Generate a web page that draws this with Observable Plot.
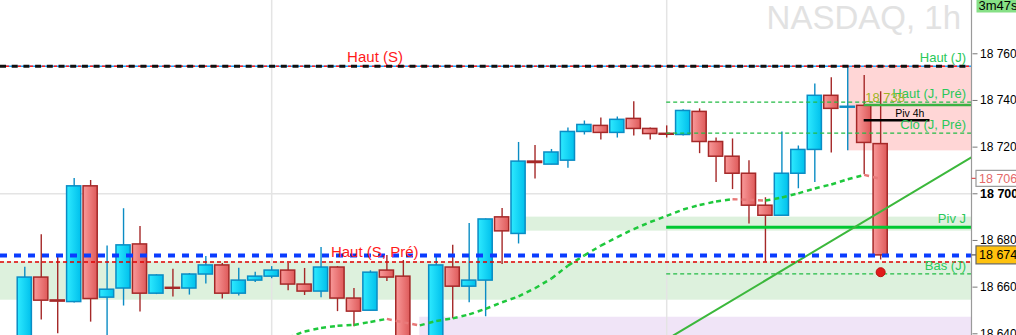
<!DOCTYPE html>
<html><head><meta charset="utf-8">
<script src="https://cdn.jsdelivr.net/npm/d3@7"></script>
<script src="https://cdn.jsdelivr.net/npm/@observablehq/plot@0.6"></script>
<style>
html,body{margin:0;padding:0;background:#fff;}
#chart svg{display:block;}
</style>
</head><body><div id="chart"></div>
<script>
// ---------- data ----------
const opens  = [18631,18664.1,18654.3,18653.6,18703.2,18655.5,18659.4,18678.3,18657.2,18659.7,18659.4,18665.4,18669.3,18657.2,18662.8,18664.5,18667.1,18661.1,18658.1,18668.4,18655.1,18649.9,18667.1,18664.5,18629,18633,18668.4,18660.2,18662.8,18689.9,18682.8,18713.8,18712.5,18714.2,18726.5,18729.1,18726.1,18732.1,18727.8,18725.7,18725.2,18735.1,18722.2,18715.9,18708.6,18694.9,18690.6,18708.6,18718.8,18742,18736.9,18737.7,18721.3];
const highs  = [18668.5,18682.5,18673,18706.6,18705.7,18677.6,18693.6,18686,18665.3,18667.7,18665.8,18673.1,18670.1,18668.1,18666.4,18668.8,18670.1,18668,18677,18668.8,18659.4,18667,18673.6,18671.4,18637,18672.7,18677.9,18687.3,18689.2,18693.7,18722,18720.7,18719,18728.2,18731.2,18732.5,18732.9,18739.4,18728.2,18729.1,18736,18736.4,18723.9,18723.5,18714.2,18698.3,18726.5,18720.5,18747.1,18749.7,18754.6,18750.7,18743.7];
const lows   = [18626,18645.9,18640,18653.2,18645,18638,18651.9,18649.3,18656.8,18655.8,18656.6,18661.3,18654.9,18656.2,18662,18663.6,18658.5,18656.4,18655.5,18649.5,18643,18649.9,18662.4,18626,18623,18629,18646.5,18653.3,18647.3,18669.7,18678.5,18706.3,18712.5,18711,18725.2,18723.1,18723.9,18724.8,18723.1,18723.9,18724.8,18717.2,18704.8,18701.8,18687.1,18670.8,18690.6,18702.2,18704.8,18717.5,18718.4,18708.2,18671.6];
const closes = [18664.1,18654.2,18653.8,18703.2,18654.9,18658.9,18677.9,18657.2,18665,18659.3,18665.4,18669.3,18657.2,18662.8,18664.5,18667.1,18661.1,18658.1,18668.4,18655.1,18649.5,18666.2,18664.1,18631,18633,18669.3,18660.2,18662.8,18689,18683.9,18713.8,18713.2,18717.7,18726.5,18729.5,18726.1,18731.7,18727.8,18725.6,18725.3,18735.5,18722.2,18715.9,18708.6,18694.9,18690.6,18708.6,18718.8,18742,18736.4,18737.3,18721.8,18673.6];

// moving average, from bar 16 on
const maStart = 16;
const maValues = [18638.4,18641.0,18642.5,18643.4,18643.8,18645.1,18646.4,18644.9,18643.6,18645.5,18646.6,18648.3,18650.7,18653.5,18656.0,18659.5,18663.7,18669.2,18673.6,18677.8,18681.4,18684.9,18687.9,18690.5,18693.3,18695.2,18696.7,18697.7,18697.4,18697.1,18698.4,18700.2,18702.3,18704.0,18706.2,18708.1,18706.4];

// levels
const hautS = 18754.7;        // Haut (S) / Haut (J)
const hautSPre = 18670.8;     // Haut (S, Pré)
const lastPrice = 18673.6;
const hautJPre = 18739.3;
const cloJPre = 18726.0;
const basJ = 18665.7;
const pivJ = 18685.7;
const piv4h = 18731.5;
const level4h = 18738.1;
const roundLevel = 18700;

const sessionStarts = [15, 39];   // bar index of the session separators
const dayStart = 39;
const bar4hStart = 51;
const piv4hEnd = 55;

const bandWeek = [18654.4, 18670.8];
const bandPiv = [18684.0, 18690.0];
const bandPivStart = 30;
const bandLow = [18600, 18647.1];
const bandLowStart = 24;
const rangeBox = [18718.4, 18754.6];
const rangeStart = 50;

const trendPoints = [{i: 39.41, v: 18639.3}, {i: 57.51, v: 18715.6}];
const redDot = [{i: 52, v: 18666.4}];

const yTicks = [18640, 18660, 18680, 18700, 18720, 18740, 18760];
const labelWeekHigh = {t: "Haut (S)", v: hautS, i: 21.28};
const labelWeekHighPre = {t: "Haut (S, Pré)", v: hautSPre, i: 21.26};
const rightLabels = [
  {t: "Haut (J)", v: hautS}, {t: "Haut (J, Pré)", v: hautJPre}, {t: "Clo (J, Pré)", v: cloJPre},
  {t: "Piv J", v: pivJ}, {t: "Bas (J)", v: basJ}
];
const title = "NASDAQ, 1h";
const timer = "3m47s";

// ---------- build ----------
const candles = d3.range(opens.length).map(i => ({i, o: opens[i], h: highs[i], l: lows[i], c: closes[i], up: closes[i] >= opens[i]}));
const ups = candles.filter(d => d.up), downs = candles.filter(d => !d.up);
const ma = maValues.map((v, k) => ({i: maStart + k, v}));
const maSegs = ma.slice(1).map((d, k) => ({i1: ma[k].i, v1: ma[k].v, i2: d.i, v2: d.v, rising: d.v >= ma[k].v}));
const fmt = d => d3.format(",")(d).replace(/,/g, " ");

const W = 1016, H = 335, MR = 44.5;
const xDomain = [-1.476, 57.55];
const xEnd = xDomain[1];
const BW = 0.43;
const FONT = "'Liberation Sans', Arial, sans-serif";

const green = "#2ac85a";
const upStroke = "#0a8cc4", dnStroke = "#a52828";

const chart = Plot.plot({
  width: W, height: H,
  marginLeft: 0, marginRight: MR, marginTop: 0, marginBottom: 0,
  style: {fontFamily: FONT, fontSize: "12px", background: "#fff", overflow: "visible"},
  x: {domain: xDomain, axis: null},
  y: {domain: [18639.27, 18782.84], axis: null},
  marks: [
    // bands
    Plot.rect([bandWeek], {y1: d => d[0], y2: d => d[1], fill: "#ddf1dd"}),
    Plot.rect([bandLow], {x1: bandLowStart, x2: xEnd, y1: d => d[0], y2: d => d[1], fill: "#f0e4f7", clip: true}),
    Plot.rect([bandPiv], {x1: bandPivStart, x2: xEnd, y1: d => d[0], y2: d => d[1], fill: "#ddf1dd"}),
    Plot.rect([rangeBox], {x1: rangeStart, x2: xEnd, y1: d => d[0], y2: d => d[1], fill: "#ffd6d6"}),
    // grid + session separators
    Plot.ruleY([roundLevel], {stroke: "#e4e4e4", strokeWidth: 1.5}),
    Plot.ruleX(sessionStarts, {stroke: "#e4e4e4", strokeWidth: 1.5}),
    // title
    Plot.text([title], {text: d => d, frameAnchor: "top-right", textAnchor: "end", lineAnchor: "middle", dx: -11, dy: 18, fontSize: 33, fill: "#e2e2e2"}),
    // candles: wicks
    Plot.ruleX(ups, {x: "i", y1: "l", y2: "h", stroke: upStroke, strokeWidth: 1.4, clip: true}),
    Plot.ruleX(downs, {x: "i", y1: "l", y2: "h", stroke: dnStroke, strokeWidth: 1.4, clip: true}),
    // candles: bodies
    Plot.rect(ups, {x1: d => d.i - BW, x2: d => d.i + BW, y1: "o", y2: "c", fill: "url(#gUp)", stroke: upStroke, strokeWidth: 1.5, clip: true}),
    Plot.rect(downs, {x1: d => d.i - BW, x2: d => d.i + BW, y1: "o", y2: "c", fill: "url(#gDn)", stroke: dnStroke, strokeWidth: 1.5, clip: true}),
    // day levels
    Plot.ruleY([hautJPre, cloJPre, basJ], {x1: dayStart, x2: xEnd, stroke: "#22bb44", strokeWidth: 1.2, strokeDasharray: "4,3"}),
    Plot.ruleY([pivJ], {x1: dayStart, x2: xEnd, stroke: "#00c832", strokeWidth: 3}),
    Plot.ruleY([level4h], {x1: bar4hStart, x2: xEnd, stroke: "#3cb043", strokeWidth: 2.5}),
    Plot.ruleY([piv4h], {x1: bar4hStart, x2: piv4hEnd, stroke: "#000", strokeWidth: 2.5}),
    // trend line
    Plot.line(trendPoints, {x: "i", y: "v", stroke: "#3cb83c", strokeWidth: 2, clip: true}),
    // moving average
    Plot.link(maSegs.filter(d => d.rising), {x1: "i1", y1: "v1", x2: "i2", y2: "v2", stroke: "#1ec83c", strokeWidth: 2.5, strokeDasharray: "5,4", clip: true}),
    Plot.link(maSegs.filter(d => !d.rising), {x1: "i1", y1: "v1", x2: "i2", y2: "v2", stroke: "#e87878", strokeWidth: 2.5, strokeDasharray: "5,4", clip: true}),
    // week levels / last price
    Plot.ruleY([hautSPre], {stroke: "#e00000", strokeWidth: 1.4, strokeDasharray: "4,3"}),
    Plot.ruleY([lastPrice], {stroke: "#0a3cff", strokeWidth: 4, strokeDasharray: "7,7"}),
    Plot.ruleY([hautS], {stroke: "#1aa0ff", strokeWidth: 1.5}),
    Plot.ruleY([hautS], {stroke: "#ff1a1a", strokeWidth: 1.5, strokeDasharray: "3,3"}),
    Plot.ruleY([hautS], {stroke: "#111", strokeWidth: 3, strokeDasharray: "6,5.7"}),
    // labels
    Plot.text([labelWeekHigh], {x: "i", y: "v", text: "t", dy: -9, fontSize: 15, fill: "#ff1a1a", lineAnchor: "middle"}),
    Plot.text([labelWeekHighPre], {x: "i", y: "v", text: "t", dy: -10, fontSize: 15, fill: "#ff1a1a", lineAnchor: "middle"}),
    Plot.text(rightLabels, {y: "v", text: "t", frameAnchor: "right", textAnchor: "end", dx: -6, dy: -8, fontSize: 13, fill: green, lineAnchor: "middle"}),
    Plot.text([level4h], {x: bar4hStart, y: d => d, text: d => fmt(Math.round(d)), textAnchor: "start", dx: 1, dy: -7, fontSize: 13, fill: "#9cb523", lineAnchor: "middle"}),
    Plot.text([piv4h], {x: bar4hStart, y: d => d, text: () => "Piv 4h", textAnchor: "start", dx: 31, dy: -7, fontSize: 10.5, fill: "#000", lineAnchor: "middle"}),
    // red dot
    Plot.dot(redDot, {x: "i", y: "v", r: 4.5, fill: "#e01b1b", stroke: "#c01010", strokeWidth: 1}),
    // right axis
    Plot.axisY(yTicks, {anchor: "right", tickSize: 5, tickPadding: 3, fontSize: 12, stroke: "#777", fill: "#000", label: null,
      tickFormat: d => d === roundLevel ? "" : fmt(d)}),
    Plot.text([roundLevel], {y: d => d, text: d => fmt(d), frameAnchor: "right", textAnchor: "start", dx: 8, fontSize: 12.5, fontWeight: "bold", fill: "#000", lineAnchor: "middle"})
  ]
});

document.getElementById("chart").append(chart);

// decorations: gradients, axis line, price tags, timer
const svg = d3.select(chart);
const defs = svg.insert("defs", ":first-child");
const gu = defs.append("linearGradient").attr("id", "gUp").attr("x1", 0).attr("x2", 1).attr("y1", 0).attr("y2", 0);
gu.append("stop").attr("offset", 0).attr("stop-color", "#2eeaff");
gu.append("stop").attr("offset", 1).attr("stop-color", "#00c0ec");
const gd = defs.append("linearGradient").attr("id", "gDn").attr("x1", 0).attr("x2", 1).attr("y1", 0).attr("y2", 0);
gd.append("stop").attr("offset", 0).attr("stop-color", "#f99a9a");
gd.append("stop").attr("offset", 1).attr("stop-color", "#de5a5a");

const ys = chart.scale("y");
const ax = W - MR;
const deco = svg.append("g").attr("text-anchor", "start").attr("font-family", FONT);
deco.append("line").attr("x1", ax).attr("x2", ax).attr("y1", 0).attr("y2", H).attr("stroke", "#9a9a9a").attr("stroke-width", 1.2);

function tag(v, text, fill, stroke, color, tickColor, h) {
  const y = ys.apply(v);
  deco.append("line").attr("x1", ax).attr("x2", ax + 5).attr("y1", y).attr("y2", y).attr("stroke", tickColor).attr("stroke-width", 1.2);
  deco.append("rect").attr("x", ax + 4.5).attr("y", y - h / 2).attr("width", 44).attr("height", h)
    .attr("fill", fill).attr("stroke", stroke).attr("stroke-width", 1.2);
  deco.append("text").attr("x", ax + 7.5).attr("y", y).attr("dy", "0.35em").attr("text-anchor", "start")
    .attr("font-size", 12.5).attr("fill", color).text(text);
}
tag(maValues[maValues.length - 1], fmt(Math.round(maValues[maValues.length - 1])), "#fff", "#999", "#e46a6a", "#e05050", 16);
tag(lastPrice, fmt(Math.round(lastPrice)), "#ffc20e", "#666", "#000", "#555", 18);

deco.append("rect").attr("x", ax + 5).attr("y", -1).attr("width", 42).attr("height", 13.5).attr("fill", "#86e086");
deco.append("text").attr("x", ax + 7).attr("y", 10).attr("text-anchor", "start")
  .attr("font-size", 13).attr("fill", "#000").text(timer);
</script>
</body></html>
